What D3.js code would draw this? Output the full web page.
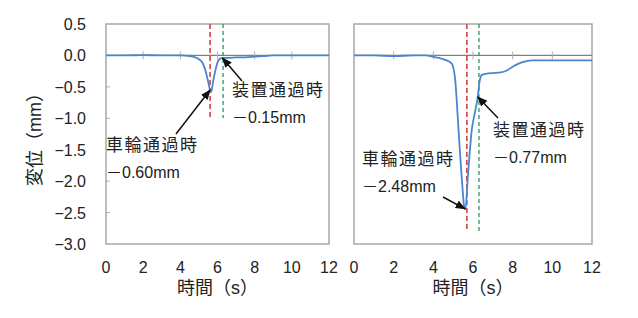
<!DOCTYPE html>
<html>
<head>
<meta charset="utf-8">
<script src="https://cdn.jsdelivr.net/npm/d3@7"></script>
<style>
  body { margin: 0; background: #fff; }
  svg text { font-family: "Liberation Sans", Arial, "Noto Sans CJK JP", sans-serif; fill: #222; }
  .jp { letter-spacing: 1.5px; }
</style>
</head>
<body>
<div class="chart"></div>
<script>
// data
const yTicks = [0.5, 0.0, -0.5, -1.0, -1.5, -2.0, -2.5, -3.0];
const xTicks = [0, 2, 4, 6, 8, 10, 12];

// left: small displacement
const timeA = [0, 1, 2, 3, 4, 4.5, 4.8, 5.0, 5.2, 5.35, 5.5, 5.6, 5.66, 5.76, 5.9, 6.03, 6.15, 6.3, 6.6, 7, 7.5, 8, 8.5, 9, 10, 11, 12];
const dispA = [0, 0, 0.005, 0, 0, -0.01, -0.03, -0.06, -0.12, -0.24, -0.42, -0.55, -0.58, -0.42, -0.22, -0.09, -0.05, -0.04, -0.04, -0.03, -0.03, -0.02, -0.01, 0, 0, 0, 0];
const wheelA = 5.6, deviceA = 6.3;

// right: large displacement
const timeB = [0, 1, 2, 3, 3.6, 4, 4.3, 4.6, 4.93, 5.1, 5.27, 5.44, 5.57, 5.62, 5.74, 5.94, 6.1, 6.24, 6.33, 6.45, 6.7, 7.0, 7.4, 7.7, 8.0, 8.3, 8.7, 9, 10, 11, 12];
const dispB = [0, 0, -0.01, 0, 0, -0.02, -0.04, -0.07, -0.13, -0.38, -1.18, -1.98, -2.43, -2.45, -1.93, -1.18, -0.9, -0.66, -0.42, -0.31, -0.29, -0.28, -0.27, -0.24, -0.18, -0.13, -0.09, -0.08, -0.08, -0.08, -0.08];
const wheelB = 5.69, deviceB = 6.3;

const labelsA = {wheel: ["車輪通過時", "－0.60mm"], device: ["装置通過時", "－0.15mm"]};
const labelsB = {wheel: ["車輪通過時", "－2.48mm"], device: ["装置通過時", "－0.77mm"]};

const width = 638, height = 318;
const plotTop = 24, plotBottom = 244;

const svg = d3.select(".chart").append("svg")
    .attr("width", width)
    .attr("height", height);

svg.append("defs").append("marker")
    .attr("id", "arrow")
    .attr("viewBox", "0 0 10 10")
    .attr("refX", 9).attr("refY", 5)
    .attr("markerWidth", 7).attr("markerHeight", 7)
    .attr("orient", "auto")
    .append("path")
    .attr("d", "M0,1 L10,5 L0,9 Z")
    .attr("fill", "#111");

var y = d3.scaleLinear().domain([-3, 0.5]).range([plotBottom, plotTop]);

function panel(x0, x1, time, disp, wheel, device, showY) {
    var x = d3.scaleLinear().domain([0, 12]).range([x0, x1]);
    var g = svg.append("g");

    // frame
    g.append("rect")
        .attr("x", x0).attr("y", plotTop)
        .attr("width", x1 - x0).attr("height", plotBottom - plotTop)
        .attr("fill", "none")
        .attr("stroke", "#a8a8a8")
        .attr("stroke-width", 1.5);

    // zero line with ticks
    g.append("line")
        .attr("x1", x0).attr("x2", x1)
        .attr("y1", y(0)).attr("y2", y(0))
        .attr("stroke", "#808080").attr("stroke-width", 1.2);
    g.selectAll(".xt").data(xTicks.slice(1, -1)).enter().append("line")
        .attr("x1", d => x(d)).attr("x2", d => x(d))
        .attr("y1", y(0) - 4).attr("y2", y(0) + 4)
        .attr("stroke", "#b0b0b0");

    if (showY) {
        g.selectAll(".yt").data(yTicks.slice(1, -1)).enter().append("line")
            .attr("x1", x0).attr("x2", x0 + 4)
            .attr("y1", d => y(d)).attr("y2", d => y(d))
            .attr("stroke", "#b0b0b0");
        g.selectAll(".yl").data(yTicks).enter().append("text")
            .attr("x", 86).attr("y", d => y(d) + 6)
            .attr("text-anchor", "end")
            .attr("font-size", 16)
            .text(d => (d < 0 ? "\u2212" : "") + Math.abs(d).toFixed(1));
    }

    // x tick labels
    g.selectAll(".xl").data(xTicks).enter().append("text")
        .attr("x", d => x(d)).attr("y", 273)
        .attr("text-anchor", "middle")
        .attr("font-size", 16)
        .text(d => d);

    g.append("text")
        .attr("x", (x0 + x1) / 2).attr("y", 294)
        .attr("text-anchor", "middle")
        .attr("font-size", 18)
        .text("時間（s）");

    // passage markers
    g.append("line")
        .attr("x1", x(wheel)).attr("x2", x(wheel))
        .attr("y1", plotTop).attr("y2", showY ? 118 : 232)
        .attr("stroke", "#d04545").attr("stroke-width", 1.6)
        .attr("stroke-dasharray", "5,3");
    g.append("line")
        .attr("x1", x(device)).attr("x2", x(device))
        .attr("y1", plotTop).attr("y2", showY ? 118 : 232)
        .attr("stroke", "#3a9a6e").attr("stroke-width", 1.4)
        .attr("stroke-dasharray", "4,3");

    // trace
    var line = d3.line()
        .x((d, i) => x(time[i]))
        .y(d => y(d))
        .curve(d3.curveMonotoneX);
    g.append("path")
        .datum(disp)
        .attr("d", line)
        .attr("fill", "none")
        .attr("stroke", "#4a86d0")
        .attr("stroke-width", 1.8);

    return x;
}

function note(lines, tx, ty, fromX, fromY, toX, toY) {
    svg.append("line")
        .attr("x1", fromX).attr("y1", fromY)
        .attr("x2", toX).attr("y2", toY)
        .attr("stroke", "#111").attr("stroke-width", 1.5)
        .attr("marker-end", "url(#arrow)");
    svg.append("text")
        .attr("class", "jp")
        .attr("x", tx).attr("y", ty)
        .attr("font-size", 17)
        .text(lines[0]);
    svg.append("text")
        .attr("x", tx).attr("y", ty + 27)
        .attr("font-size", 16)
        .text(lines[1]);
}

var xa = panel(106, 329, timeA, dispA, wheelA, deviceA, true);
var xb = panel(354, 592, timeB, dispB, wheelB, deviceB, false);

// y axis title
svg.append("text")
    .attr("transform", "translate(41,135) rotate(-90)")
    .attr("text-anchor", "middle")
    .attr("font-size", 18)
    .text("変位（mm）");

// annotations, arrows end on the traces
note(labelsA.device, 232, 96, 242, 81, xa(6.27), y(-0.04));
note(labelsA.wheel, 106, 151, 176, 134, xa(5.6), y(-0.55));
note(labelsB.device, 493, 136, 498, 118, xb(6.24), y(-0.66));
note(labelsB.wheel, 362, 165, 443, 197, xb(5.6), y(-2.44));
</script>
</body>
</html>
